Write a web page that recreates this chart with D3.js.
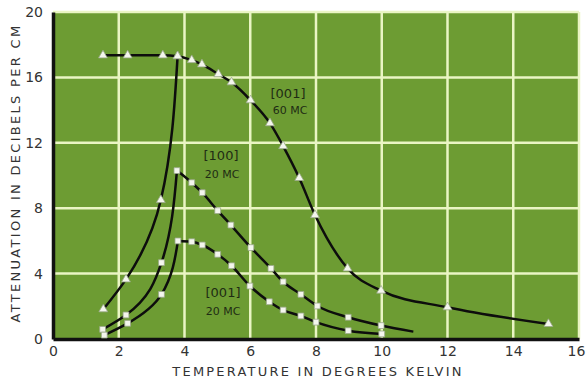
<!DOCTYPE html>
<html>
<head>
<meta charset="utf-8">
<script src="https://cdn.jsdelivr.net/npm/d3@7"></script>
<style>
  body { margin: 0; background: #fff; }
  text { font-family: "DejaVu Sans", sans-serif; }
</style>
</head>
<body>
<script>
// data (temperature K, attenuation dB/cm)
var xTicks = [0, 2, 4, 6, 8, 10, 12, 14, 16];
var yTicks = [0, 4, 8, 12, 16, 20];

// [001] 60 MC, upper branch
var t60 = [1.52, 2.27, 3.34, 3.79, 4.22, 4.53, 5.03, 5.43, 6.01, 6.6, 7.0, 7.49, 7.97, 8.96, 9.98, 12.0, 15.07];
var a60 = [17.35, 17.35, 17.35, 17.3, 17.06, 16.8, 16.2, 15.7, 14.6, 13.2, 11.8, 9.85, 7.58, 4.32, 2.96, 1.94, 0.92];
// [001] 60 MC, rising branch
var t60r = [1.53, 2.22, 3.28, 3.79];
var a60r = [1.82, 3.65, 8.5, 17.3];
// [100] 20 MC (peak at index 3)
var t100 = [1.51, 2.22, 3.3, 3.77, 4.22, 4.54, 5.01, 5.41, 6.02, 6.63, 7.0, 7.54, 8.04, 8.98, 9.98];
var a100 = [0.59, 1.47, 4.67, 10.3, 9.56, 8.95, 7.85, 6.97, 5.59, 4.32, 3.5, 2.73, 2.02, 1.33, 0.82];
var t100End = 10.96, a100End = 0.45;
// [001] 20 MC (peak at index 3)
var t20 = [1.56, 2.27, 3.3, 3.8, 4.22, 4.54, 5.01, 5.43, 5.99, 6.58, 7.0, 7.54, 8.0, 8.98, 10.0];
var a20 = [0.24, 0.96, 2.73, 6.0, 5.95, 5.75, 5.18, 4.48, 3.24, 2.28, 1.77, 1.41, 1.03, 0.51, 0.31];
var peak = 3;

var w = 586, h = 380;
var padL = 53, padR = 579, padT = 12, padB = 339;

var svg = d3.select("body").append("svg")
    .attr("width", w)
    .attr("height", h);

var xScale = d3.scaleLinear().domain([0, 16]).range([padL, padR]);
var yScale = d3.scaleLinear().domain([0, 20]).range([padB, padT]);

// green panel
svg.append("rect")
    .attr("x", padL).attr("y", padT)
    .attr("width", padR - padL).attr("height", padB - padT)
    .attr("fill", "#6d9c33");

// grid
svg.append("g").selectAll("line").data(xTicks.slice(1)).enter().append("line")
    .attr("x1", function(d) { return xScale(d); })
    .attr("x2", function(d) { return xScale(d); })
    .attr("y1", padT).attr("y2", padB)
    .attr("stroke", "#eaf5c4").attr("stroke-width", 2.5);
svg.append("g").selectAll("line").data(yTicks.slice(1)).enter().append("line")
    .attr("y1", function(d) { return yScale(d); })
    .attr("y2", function(d) { return yScale(d); })
    .attr("x1", padL).attr("x2", padR)
    .attr("stroke", "#eaf5c4").attr("stroke-width", 2.5);

// axes
var xAxis = d3.axisBottom(xScale).tickValues(xTicks).tickSize(0).tickPadding(7);
var yAxis = d3.axisLeft(yScale).tickValues(yTicks).tickSize(0).tickPadding(8);

svg.append("g")
    .attr("class", "xaxis")
    .attr("transform", "translate(0," + padB + ")")
    .call(xAxis);
svg.append("g")
    .attr("class", "yaxis")
    .attr("transform", "translate(" + padL + ",0)")
    .call(yAxis);

svg.selectAll(".xaxis .domain, .yaxis .domain")
    .attr("stroke", "#111").attr("stroke-width", 3.5);
svg.selectAll(".xaxis text, .yaxis text")
    .attr("font-size", 14).attr("fill", "#333")
    .style("font-family", "DejaVu Sans, sans-serif");
svg.selectAll(".yaxis text").attr("dx", -2);
svg.selectAll(".xaxis .tick:last-of-type text").attr("dx", -3);

// axis titles
svg.append("text")
    .attr("x", 318).attr("y", 376)
    .attr("text-anchor", "middle")
    .attr("font-size", 13).attr("letter-spacing", 2.2)
    .attr("fill", "#333")
    .text("TEMPERATURE IN DEGREES KELVIN");
svg.append("text")
    .attr("transform", "translate(20,173) rotate(-90)")
    .attr("text-anchor", "middle")
    .attr("font-size", 13).attr("letter-spacing", 2.3)
    .attr("fill", "#333")
    .text("ATTENUATION IN DECIBELS PER CM");

function pts(t, a) {
    return t.map(function(d, i) { return [d, a[i]]; });
}

var p60 = pts(t60, a60), p60r = pts(t60r, a60r),
    p100 = pts(t100, a100), p20 = pts(t20, a20);

// rising parts are drawn as x(y), falling parts as y(x)
var segments = [
    { data: p60, curve: d3.curveMonotoneX },
    { data: p60r, curve: d3.curveMonotoneY },
    { data: p100.slice(0, peak + 1), curve: d3.curveMonotoneY },
    { data: p100.slice(peak).concat([[t100End, a100End]]), curve: d3.curveMonotoneX },
    { data: p20.slice(0, peak + 1), curve: d3.curveMonotoneY },
    { data: p20.slice(peak), curve: d3.curveMonotoneX }
];

var lines = svg.append("g");
segments.forEach(function(c) {
    var line = d3.line()
        .x(function(d) { return xScale(d[0]); })
        .y(function(d) { return yScale(d[1]); })
        .curve(c.curve);
    lines.append("path")
        .attr("d", line(c.data))
        .attr("fill", "none")
        .attr("stroke", "#0d0d0d")
        .attr("stroke-width", 2.5);
});

var markSets = [
    { data: p60.concat(p60r), sym: d3.symbolTriangle, size: 34 },
    { data: p100.concat(p20), sym: d3.symbolSquare, size: 34 }
];
var marks = svg.append("g");
markSets.forEach(function(m) {
    marks.selectAll(null).data(m.data).enter().append("path")
        .attr("d", d3.symbol().type(m.sym).size(m.size))
        .attr("transform", function(d) { return "translate(" + xScale(d[0]) + "," + yScale(d[1]) + ")"; })
        .attr("fill", "#f4f6ee")
        .attr("stroke", "#9aa88a")
        .attr("stroke-width", 0.8);
});

// curve labels
var labels = [
    { x: 288, y: 98, t: "[001]" }, { x: 290, y: 114, t: "60 MC" },
    { x: 221, y: 160, t: "[100]" }, { x: 222, y: 178, t: "20 MC" },
    { x: 223, y: 297, t: "[001]" }, { x: 223, y: 315, t: "20 MC" }
];
svg.append("g").selectAll("text").data(labels).enter().append("text")
    .attr("x", function(d) { return d.x; })
    .attr("y", function(d) { return d.y; })
    .attr("text-anchor", "middle")
    .attr("font-size", function(d) { return d.t.charAt(0) == "[" ? 13 : 11; })
    .attr("fill", "#1f2c14")
    .text(function(d) { return d.t; });
</script>
</body>
</html>
